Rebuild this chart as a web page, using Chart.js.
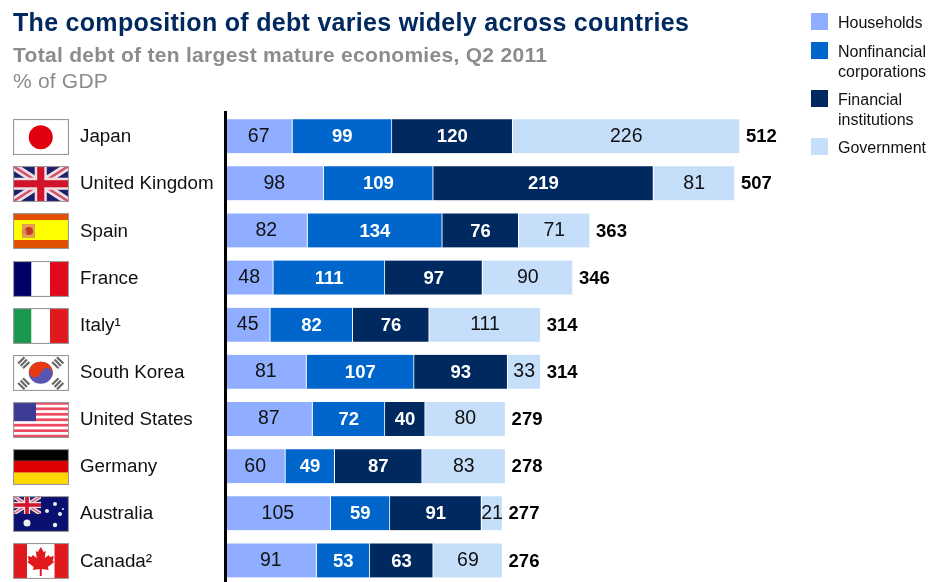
<!DOCTYPE html>
<html>
<head>
<meta charset="utf-8">
<script src="https://cdn.jsdelivr.net/npm/chart.js@4"></script>
<style>
  html, body { margin: 0; padding: 0; background: #fff; overflow: hidden; width: 928px; height: 582px; }
  body { position: relative; font-family: "Liberation Sans", Arial, sans-serif; }
  #grafica { position: absolute; left: 0; top: 0; }
  .txt { position: absolute; white-space: nowrap; }
  #titulo { left: 13px; top: 8px; font-size: 25px; font-weight: bold; color: #002960; letter-spacing: 0.3px; }
  #subtitulo { left: 13px; top: 43px; font-size: 21px; font-weight: bold; color: #8c8c8c; letter-spacing: 0.3px; }
  #unidad { left: 13px; top: 69px; font-size: 21px; color: #8c8c8c; letter-spacing: 0.2px; }
  .swatch { position: absolute; left: 811px; width: 17px; height: 17px; }
  .leg { position: absolute; left: 838px; font-size: 16px; line-height: 20px; color: #111; white-space: pre; }
</style>
</head>
<body>
<canvas id="grafica" width="928" height="600"></canvas>
<div class="txt" id="titulo">The composition of debt varies widely across countries</div>
<div class="txt" id="subtitulo">Total debt of ten largest mature economies, Q2 2011</div>
<div class="txt" id="unidad">% of GDP</div>
<script>
//Datos
const paises = ["Japan", "United Kingdom", "Spain", "France", "Italy¹", "South Korea", "United States", "Germany", "Australia", "Canada²"];
const households = [67, 98, 82, 48, 45, 81, 87, 60, 105, 91];
const nonfinancial = [99, 109, 134, 111, 82, 107, 72, 49, 59, 53];
const financial = [120, 219, 76, 97, 76, 93, 40, 87, 91, 63];
const government = [226, 81, 71, 90, 111, 33, 80, 83, 21, 69];
const totales = [512, 507, 363, 346, 314, 314, 279, 278, 277, 276];

const colores = ["#8FAEFF", "#0066CC", "#002960", "#C5DFFB"];
const colorTexto = ["#111", "#fff", "#fff", "#111"];
const pesoTexto = ["normal 19.5px", "bold 18.5px", "bold 18.5px", "normal 19.5px"];
const ajusteY = [0, 1, 1, 0];
const nombres = ["Households", "Nonfinancial\ncorporations", "Financial\ninstitutions", "Government"];
const series = [households, nonfinancial, financial, government];

//Leyenda en HTML porque lleva textos de dos lineas
const legendaY = [12.5, 41.5, 89.5, 137.5];
nombres.forEach((n, i) => {
  const s = document.createElement("div");
  s.className = "swatch";
  s.style.top = legendaY[i] + "px";
  s.style.background = colores[i];
  document.body.appendChild(s);
  const t = document.createElement("div");
  t.className = "leg";
  t.style.top = Math.ceil(legendaY[i]) + "px";
  t.textContent = n;
  document.body.appendChild(t);
});

//Banderas, cada una dibujada en una caja de 55x35
function bandasV(c, x, y, w, h, cols) {
  cols.forEach((col, i) => { c.fillStyle = col; c.fillRect(x + i * w / 3, y, w / 3, h); });
}
function bandasH(c, x, y, w, h, cols) {
  cols.forEach((col, i) => { c.fillStyle = col; c.fillRect(x, y + i * h / 3, w, h / 3); });
}
function union(c, x, y, w, h) {
  c.save();
  c.beginPath(); c.rect(x, y, w, h); c.clip();
  c.fillStyle = "#1A1F6E"; c.fillRect(x, y, w, h);
  const linea = (col, lw) => {
    c.strokeStyle = col; c.lineWidth = lw;
    c.beginPath();
    c.moveTo(x, y); c.lineTo(x + w, y + h);
    c.moveTo(x + w, y); c.lineTo(x, y + h);
    c.stroke();
  };
  linea("#f2dfe4", h * 0.22);
  linea("#d0506a", h * 0.07);
  c.fillStyle = "#f2dfe4";
  c.fillRect(x + w / 2 - h * 0.17, y, h * 0.34, h);
  c.fillRect(x, y + h * 0.33, w, h * 0.34);
  c.fillStyle = "#d0142c";
  c.fillRect(x + w / 2 - h * 0.1, y, h * 0.2, h);
  c.fillRect(x, y + h * 0.4, w, h * 0.2);
  c.restore();
}
function punto(c, x, y, r, col) {
  c.fillStyle = col; c.beginPath(); c.arc(x, y, r, 0, Math.PI * 2); c.fill();
}
const banderas = [
  (c, x, y, w, h) => { c.fillStyle = "#fff"; c.fillRect(x, y, w, h); punto(c, x + w / 2, y + h / 2 + 0.5, 12, "#E00010"); },
  (c, x, y, w, h) => { union(c, x, y, w, h); },
  (c, x, y, w, h) => {
    c.fillStyle = "#E05000"; c.fillRect(x, y, w, h);
    c.fillStyle = "#FFFF00"; c.fillRect(x, y + 7, w, 20);
    c.fillStyle = "#E0A050"; c.fillRect(x + 9, y + 11, 13, 14);
    punto(c, x + 16, y + 18, 4, "#C23A2A");
    punto(c, x + 11, y + 19, 2.5, "#D98A50");
  },
  (c, x, y, w, h) => { bandasV(c, x, y, w, h, ["#000066", "#ffffff", "#E00A1C"]); },
  (c, x, y, w, h) => { bandasV(c, x, y, w, h, ["#1A9850", "#ffffff", "#E01A1C"]); },
  (c, x, y, w, h) => {
    c.fillStyle = "#fff"; c.fillRect(x, y, w, h);
    const cx = x + w / 2, cy = y + h / 2;
    c.fillStyle = "#5A55B0"; c.beginPath(); c.ellipse(cx, cy, 12, 11, 0, 0, Math.PI * 2); c.fill();
    c.fillStyle = "#E83A10"; c.beginPath(); c.ellipse(cx, cy, 12, 11, 0, Math.PI * 1.08, Math.PI * 0.08); c.fill();
    punto(c, cx + 6, cy + 0.8, 5.5, "#5A55B0");
    punto(c, cx - 6, cy - 0.8, 5.5, "#E83A10");
    [[-17, -10, -1], [17, -10, 1], [-17, 11, 1], [17, 11, -1]].forEach(([dx, dy, s]) => {
      c.save();
      c.translate(cx + dx, cy + dy);
      c.rotate(s * Math.PI / 4);
      c.fillStyle = "#666";
      c.fillRect(-4.5, -4.5, 9, 2.2); c.fillRect(-4.5, -1.1, 9, 2.2); c.fillRect(-4.5, 2.3, 9, 2.2);
      c.restore();
    });
  },
  (c, x, y, w, h) => {
    c.fillStyle = "#fff"; c.fillRect(x, y, w, h);
    c.fillStyle = "#EE4A62";
    for (let i = 0; i < 7; i++) c.fillRect(x, y + i * h * 2 / 13, w, h / 13);
    c.fillStyle = "#3C3C96"; c.fillRect(x, y, 23, h * 7 / 13);
  },
  (c, x, y, w, h) => { bandasH(c, x, y, w, h, ["#000000", "#DC0000", "#FFD800"]); },
  (c, x, y, w, h) => {
    c.fillStyle = "#0A1070"; c.fillRect(x, y, w, h);
    union(c, x, y, 28, 18);
    [[14, 27, 3.5], [42, 8, 2], [34, 15, 2], [47, 18, 2], [42, 29, 2.2], [50, 13, 1]].forEach(([dx, dy, r]) => {
      punto(c, x + dx, y + dy, r, "#eee");
    });
  },
  (c, x, y, w, h) => {
    c.fillStyle = "#E01A1C"; c.fillRect(x, y, w, h);
    c.fillStyle = "#fff"; c.fillRect(x + 14, y, w - 28, h);
    const cx = x + w / 2, cy = y + 2;
    const hoja = [[0, 2], [3, 7], [5, 6], [4, 13], [8, 10], [9, 12], [13, 11], [12, 16], [13.5, 17], [7, 22], [8, 25], [1, 24], [1, 31], [-1, 31], [-1, 24], [-8, 25], [-7, 22], [-13.5, 17], [-12, 16], [-13, 11], [-9, 12], [-8, 10], [-4, 13], [-5, 6], [-3, 7]];
    c.fillStyle = "#E01A1C";
    c.beginPath();
    hoja.forEach(([a, b], i) => { if (i === 0) c.moveTo(cx + a, cy + b); else c.lineTo(cx + a, cy + b); });
    c.closePath(); c.fill();
  }
];

//Banderas y nombres de pais, colocados con la escala del eje y
const pluginBanderas = {
  id: "banderas",
  afterDraw(chart) {
    const c = chart.ctx;
    const esc = chart.scales.y;
    banderas.forEach((dibuja, i) => {
      const centro = esc.getPixelForValue(i);
      const y = Math.round(centro) - 17;
      c.save();
      c.beginPath(); c.rect(13, y, 56, 36); c.clip();
      c.filter = "blur(0.5px)";
      dibuja(c, 13, y, 55.5, 35.5);
      c.filter = "none";
      c.strokeStyle = "#999";
      c.lineWidth = 1.2;
      c.strokeRect(13.5, y + 0.5, 55, 35);
      c.restore();

      c.save();
      c.font = "18.8px 'Liberation Sans', Arial, sans-serif";
      c.fillStyle = "#111";
      c.textAlign = "left";
      c.textBaseline = "middle";
      c.fillText(paises[i], 80, centro + 1);
      c.restore();
    });
  }
};

//Valores dentro de cada segmento y total al final de la barra
const pluginValores = {
  id: "valores",
  afterDatasetsDraw(chart) {
    const c = chart.ctx;
    c.save();
    c.textBaseline = "middle";
    series.forEach((valores, s) => {
      const meta = chart.getDatasetMeta(s);
      meta.data.forEach((bar, i) => {
        c.font = pesoTexto[s] + " 'Liberation Sans', Arial, sans-serif";
        c.fillStyle = colorTexto[s];
        c.textAlign = "center";
        c.fillText(valores[i], (bar.x + bar.base) / 2, bar.y + ajusteY[s]);
        if (s === series.length - 1) {
          c.font = "bold 18.5px 'Liberation Sans', Arial, sans-serif";
          c.fillStyle = "#000";
          c.textAlign = "left";
          c.fillText(totales[i], bar.x + 6, bar.y + 1);
        }
      });
    });
    c.restore();
  }
};

const grafico = new Chart(document.getElementById("grafica").getContext("2d"), {
  type: "bar",
  data: {
    labels: paises,
    datasets: series.map((valores, i) => ({
      label: nombres[i],
      data: valores,
      backgroundColor: colores[i],
      borderColor: "#fff",
      borderWidth: { left: 0, right: 1, top: 0, bottom: 0 },
      borderSkipped: false,
      barThickness: 34,
    })),
  },
  plugins: [pluginBanderas, pluginValores],
  options: {
    indexAxis: "y",
    responsive: false,
    animation: false,
    layout: { padding: { left: 80, top: 112.6, right: 0, bottom: 16 } },
    plugins: { legend: { display: false }, tooltip: { enabled: false } },
    scales: {
      x: { type: "linear", stacked: true, min: 0, max: 699, display: false },
      y: {
        stacked: true,
        afterFit(scale) { scale.width = 145; },
        grid: { display: false, drawTicks: false },
        border: { display: true, color: "#000", width: 3, z: 1 },
        ticks: { display: false },
      },
    },
  },
});
</script>
</body>
</html>
